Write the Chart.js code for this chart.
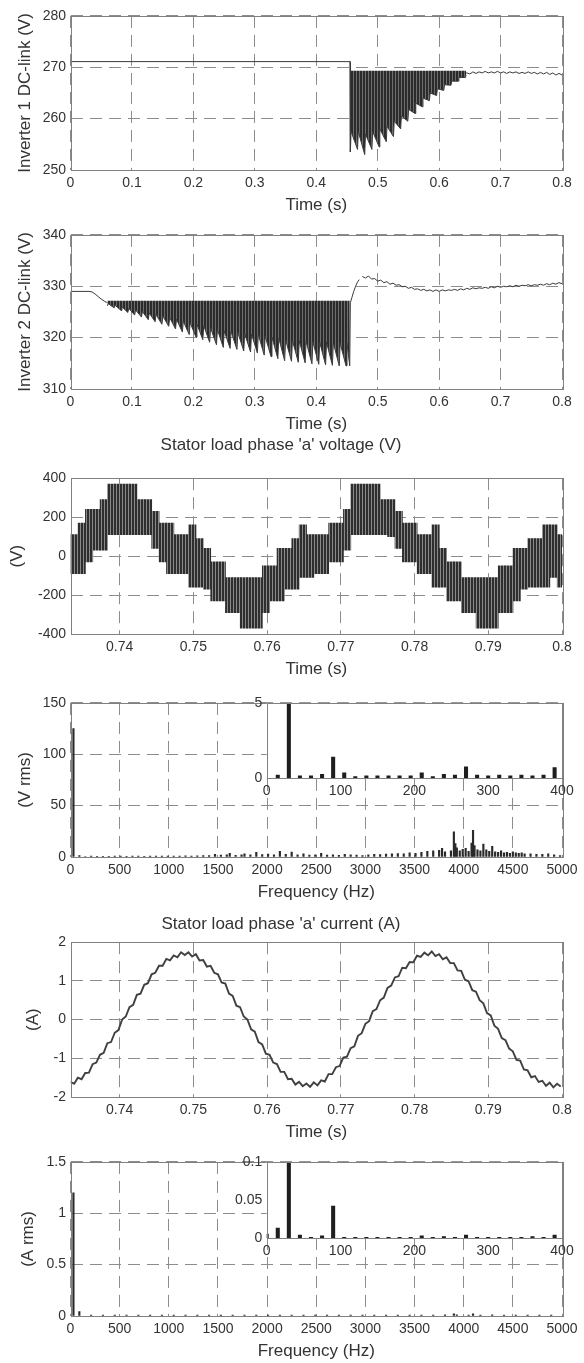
<!DOCTYPE html>
<html lang="en">
<head>
<meta charset="UTF-8">
<title>Two-inverter drive: DC-link and stator load waveforms</title>
<script src="https://cdn.jsdelivr.net/npm/chart.js"></script>
<style>
  body { margin: 0; background: #fff; }
  #wrap { position: relative; width: 584px; height: 1363px; }
  #wrap canvas { position: absolute; }
</style>
</head>
<body>
<div id="wrap">
  <canvas id="c1" width="584" height="213" style="left:0;top:3px"></canvas>
  <canvas id="c2" width="584" height="213" style="left:0;top:222px"></canvas>
  <canvas id="c3" width="584" height="248" style="left:0;top:432px"></canvas>
  <canvas id="c4" width="584" height="213" style="left:0;top:690px"></canvas>
  <canvas id="i4" width="384" height="110" style="left:200px;top:690px"></canvas>
  <canvas id="c5" width="584" height="232" style="left:0;top:911px"></canvas>
  <canvas id="c6" width="584" height="213" style="left:0;top:1149px"></canvas>
  <canvas id="i6" width="384" height="111" style="left:200px;top:1149px"></canvas>
</div>
<script>
// ---- panel 1: inverter 1 DC-link (V) ----
const p1XTicks = [0, 0.1, 0.2, 0.3, 0.4, 0.5, 0.6, 0.7, 0.8];
const p1YTicks = [250, 260, 270, 280];
const p1StepT = [0, 0.4550, 0.4555];
const p1StepV = [271.1, 271.1, 253.5];
const p1BandTop = 269.3;   // top of the ripple band
const p1BandT = [0.4555,0.4567,0.4672,0.4684,0.4789,0.4801,0.4906,0.4918,0.5023,0.5035,0.5140,0.5152,
  0.5257,0.5269,0.5374,0.5386,0.5491,0.5503,0.5608,0.5620,0.5725,0.5737,0.5842,0.5854,0.5959,0.5971,
  0.6076,0.6088,0.6193,0.6205,0.6310,0.6322,0.6427,0.6439];
const p1BandV = [253.5,257.5,254.0,257.5,253.0,257.0,254.0,257.5,254.5,258.0,255.5,258.5,
  256.5,259.5,258.0,260.5,259.5,261.8,261.0,263.0,262.3,264.0,263.5,265.0,264.5,265.8,
  265.5,266.6,266.5,267.3,267.3,268.0,268.0,268.5];
const p1SettleStart = 0.640, p1SettleStep = 0.005;
const p1SettleV = [268.6,268.9,268.7,269.1,268.8,269.1,268.9,269.2,268.9,269.1,268.9,269.2,268.9,269.1,
  268.8,269.1,268.9,269.1,268.8,269.0,268.8,269.1,268.8,269.0,268.7,269.0,268.7,269.0,268.6,268.9,
  268.5,268.8,268.5];

// ---- panel 2: inverter 2 DC-link (V) ----
const p2YTicks = [310, 320, 330, 340];
const p2StartT = [0, 0.030, 0.035, 0.040, 0.045, 0.050, 0.055, 0.060];
const p2StartV = [329.0, 329.0, 328.9, 328.5, 328.0, 327.5, 327.1, 326.8];
const p2BandTop = 327.2;
const p2TipT = [0.0600,0.0711,0.0822,0.0933,0.1044,0.1155,0.1266,0.1377,0.1488,0.1599,0.1710,0.1821,
  0.1932,0.2043,0.2154,0.2265,0.2376,0.2487,0.2598,0.2709,0.2820,0.2931,0.3042,0.3153,0.3264,0.3375,
  0.3486,0.3597,0.3708,0.3819,0.3930,0.4041,0.4152,0.4263,0.4374,0.4485,0.4545];
const p2TipV = [326.2,325.8,325.3,324.9,324.4,324.0,323.5,323.1,322.6,322.2,321.7,321.1,
  320.6,320.1,319.6,319.1,318.6,318.1,317.9,317.7,317.4,317.2,317.0,316.6,316.3,315.9,
  315.5,315.4,315.2,315.1,314.9,314.8,314.7,314.6,314.5,314.5,314.5];
const p2NotchT = [0.0615,0.0726,0.0837,0.0948,0.1059,0.1170,0.1281,0.1392,0.1503,0.1614,0.1725,0.1836,
  0.1947,0.2058,0.2169,0.2280,0.2391,0.2502,0.2613,0.2724,0.2835,0.2946,0.3057,0.3168,0.3279,0.3390,
  0.3501,0.3612,0.3723,0.3834,0.3945,0.4056,0.4167,0.4278,0.4389,0.4500];
const p2NotchV = [326.6,326.3,326.0,325.7,325.4,325.1,324.8,324.5,324.2,323.9,323.6,323.2,
  322.9,322.6,322.3,321.9,321.6,321.3,321.2,321.0,320.8,320.7,320.6,320.3,320.1,319.9,
  319.6,319.5,319.4,319.3,319.2,319.1,319.1,319.0,318.9,318.9];
const p2RiseT = [0.4545, 0.4555, 0.458, 0.461, 0.464, 0.467, 0.470];
const p2RiseV = [314.5, 326.8, 327.8, 329.0, 330.0, 330.8, 331.3];
const p2AfterStart = 0.475, p2AfterStep = 0.005;
const p2AfterV = [331.9,331.6,332.0,331.4,331.5,331.0,331.2,330.7,330.9,330.4,330.6,330.2,330.3,329.9,
  330.0,329.6,329.8,329.4,329.5,329.2,329.4,329.1,329.3,329.0,329.3,329.0,329.3,329.1,329.3,329.2,
  329.4,329.2,329.5,329.3,329.6,329.4,329.7,329.5,329.7,329.6,329.8,329.6,329.9,329.7,330.0,329.8,
  330.0,329.9,330.1,329.9,330.2,330.0,330.2,330.1,330.3,330.1,330.3,330.2,330.4,330.2,330.5,330.3,
  330.6,330.4,330.7,330.5];

// ---- panel 3: stator load phase 'a' voltage (V), switching band per 1 ms ----
const tWinTicks = [0.74, 0.75, 0.76, 0.77, 0.78, 0.79, 0.8];
const tWinMin = 0.73333, tWinMax = 0.8;
const p3YTicks = [-400, -200, 0, 200, 400];
const p3Start = 0.73385, p3Step = 0.001;
const p3High = [110,170,240,240,290,370,370,370,370,290,290,230,170,170,110,110,160,90,40,-30,
  -30,-110,-110,-110,-110,-110,-50,-50,40,40,90,160,110,110,110,170,170,240,370,370,
  370,370,290,290,230,170,170,110,110,160,40,-30,-30,-110,-110,-110,-110,-110,-50,-50,
  40,40,90,90,160,160,110];
const p3Low = [-90,-90,-30,30,30,110,110,110,110,110,110,40,-30,-90,-90,-90,-160,-160,-170,-230,
  -230,-290,-290,-370,-370,-370,-290,-230,-230,-170,-170,-110,-110,-90,-90,-30,-30,30,110,110,
  110,110,110,100,40,-30,-30,-90,-90,-160,-160,-230,-230,-290,-290,-370,-370,-370,-290,-290,
  -230,-170,-160,-160,-160,-110,-160];

// ---- panel 4: voltage spectrum (V rms) ----
const fTicks = [0, 500, 1000, 1500, 2000, 2500, 3000, 3500, 4000, 4500, 5000];
const p4YTicks = [0, 50, 100, 150];
const p4F = [30,90,150,210,270,330,390,450,510,570,630,690,750,810,870,930,990,1050,1110,1170,1230,1290,1350,1410,1470,
  1530,1590,1620,1680,1740,1770,1830,1890,1950,2010,2070,2130,2190,2250,2310,2370,2430,2490,2550,2610,2670,2730,
  2790,2850,2910,2970,3030,3090,3150,3210,3270,3330,3390,3450,3510,3570,3630,3690,3750,
  3780,3810,3870,3900,3915,3930,3960,3990,4020,4050,4080,4095,4110,4140,4170,4200,4230,4260,4290,4320,4350,
  4380,4410,4440,4470,4500,4530,4560,4590,4620,4680,4740,4800,4860,4920,4980];
const p4V = [125,1.4,0.5,0.8,0.7,0.6,0.7,0.8,0.9,0.7,0.8,0.9,0.7,0.8,1.0,0.8,0.9,1.0,0.9,1.1,1.0,1.2,1.3,1.5,2.5,
  1.8,2.0,3.5,1.6,2.2,3.0,2.0,4.5,2.4,2.8,2.0,5.5,2.5,4.8,2.0,3.0,1.8,2.2,3.5,1.8,2.0,1.6,
  2.5,2.2,1.8,1.5,2.0,2.5,2.4,2.8,3.0,3.4,3.0,4.0,3.5,4.5,5.5,6.0,6.5,
  8.5,5.0,6.0,24.5,13.0,9.0,6.0,7.5,8.5,5.5,13.5,26.0,11.0,7.0,6.0,12.5,7.0,5.5,10.5,5.0,4.5,
  6.0,4.0,4.5,3.5,5.0,4.0,3.5,4.0,3.0,3.0,2.5,2.5,3.0,2.0,1.5];
const insetFTicks = [0, 100, 200, 300, 400];
const i4YTicks = [0, 5];
const i4F = [15,30,45,60,75,90,105,120,135,150,165,180,195,210,225,240,255,270,285,300,315,330,345,360,375,390];
const i4V = [0.2,125,0.15,0.15,0.25,1.4,0.35,0.1,0.15,0.15,0.15,0.15,0.15,0.35,0.1,0.25,0.2,0.75,0.2,0.15,0.2,0.15,0.2,0.15,0.2,0.7];

// ---- panel 5: stator load phase 'a' current (A), 0.5 ms samples ----
const p5YTicks = [-2, -1, 0, 1, 2];
const p5Start = 0.73333, p5Step = 0.0005;
const p5V = [-1.61,-1.66,-1.50,-1.54,-1.38,-1.37,-1.15,-1.11,-0.91,-0.86,-0.61,-0.58,-0.34,-0.27,0.00,0.08,
  0.32,0.38,0.64,0.67,0.90,0.94,1.17,1.21,1.39,1.39,1.57,1.53,1.66,1.61,1.74,1.67,1.74,1.63,1.69,1.53,
  1.54,1.37,1.39,1.21,1.17,0.96,0.93,0.67,0.61,0.36,0.32,0.08,0.00,-0.25,-0.31,-0.58,-0.64,-0.88,-0.91,
  -1.11,-1.15,-1.35,-1.35,-1.54,-1.53,-1.68,-1.61,-1.72,-1.65,-1.74,-1.62,-1.70,-1.57,-1.60,-1.41,-1.41,
  -1.23,-1.20,-0.98,-0.96,-0.74,-0.69,-0.42,-0.35,-0.11,-0.04,0.22,0.27,0.50,0.57,0.82,0.88,1.09,1.12,
  1.34,1.33,1.49,1.48,1.65,1.62,1.73,1.66,1.76,1.64,1.69,1.56,1.61,1.46,1.46,1.27,1.26,1.03,0.99,0.76,
  0.72,0.50,0.42,0.17,0.11,-0.16,-0.24,-0.48,-0.53,-0.75,-0.82,-1.04,-1.06,-1.29,-1.31,-1.49,-1.46,
  -1.61,-1.58,-1.71,-1.63,-1.75,-1.66,-1.73];

// ---- panel 6: current spectrum (A rms) ----
const p6YTicks = [0, 0.5, 1, 1.5];
const p6F = [30,90,210,330,450,570,690,810,930,1050,1170,1290,1410,1530,1650,1770,1890,2010,2130,2250,2370,2490,
  2610,2730,2850,2970,3090,3210,3330,3450,3570,3690,3810,3900,3930,4050,4095,4170,4290,4410,4530,4650,4770,4890];
const p6V = [1.2,0.042,0.010,0.008,0.010,0.008,0.010,0.008,0.009,0.010,0.008,0.010,0.009,0.008,0.010,0.009,
  0.010,0.008,0.010,0.009,0.008,0.010,0.009,0.008,0.010,0.008,0.009,0.010,0.008,0.010,0.009,0.010,0.012,
  0.020,0.012,0.010,0.020,0.010,0.012,0.010,0.009,0.010,0.008,0.009];
const i6YTicks = [0, 0.05, 0.1];
const i6F = [0,15,30,45,60,75,90,105,120,135,150,165,180,195,210,225,240,255,270,285,300,315,330,345,360,375,390];
const i6V = [0.005,0.013,1.2,0.004,0.001,0.003,0.042,0.001,0.001,0.001,0.001,0.001,0.001,0.001,0.003,0.001,
  0.002,0.001,0.004,0.001,0.001,0.001,0.001,0.001,0.002,0.001,0.004];

// ---- styling ----
Chart.defaults.font.family = '"Liberation Sans", Arial, Helvetica, sans-serif';
Chart.defaults.color = '#333';
const INK = '#333', GRID = '#8c8c8c', FRAME = '#808080', DASH = [12, 7];
const fmt = v => String(+Number(v).toFixed(3));
const seq = (start, step, n) => Array.from({length: n}, (_, i) => +(start + i * step).toFixed(5));
const pts = (xs, ys) => xs.map((x, i) => ({x, y: ys[i]}));
const line = {borderColor: '#3a3a3a', borderWidth: 1, pointRadius: 0, fill: false, tension: 0};

// vertical hatch, to mimic the dense switching traces
function hatch(dark, light, dw, lw) {
  const c = document.createElement('canvas');
  c.width = dw + lw; c.height = 4;
  const g = c.getContext('2d');
  g.fillStyle = dark; g.fillRect(0, 0, dw, 4);
  g.fillStyle = light; g.fillRect(dw, 0, lw, 4);
  return g.createPattern(c, 'repeat');
}

const frame = {
  id: 'frame',
  beforeDatasetsDraw(chart, args, opts) {
    if (!opts.white) return;
    const a = chart.chartArea, ctx = chart.ctx;
    ctx.save(); ctx.fillStyle = '#fff';
    ctx.fillRect(a.left, a.top, a.right - a.left, a.bottom - a.top);
    ctx.restore();
  },
  afterDatasetsDraw(chart) {
    const a = chart.chartArea, ctx = chart.ctx;
    ctx.save(); ctx.strokeStyle = FRAME; ctx.lineWidth = 1;
    ctx.strokeRect(Math.round(a.left) + 0.5, Math.round(a.top) + 0.5,
      Math.round(a.right - a.left), Math.round(a.bottom - a.top));
    ctx.restore();
  }
};

function axis(min, max, ticks, o) {
  return {
    type: 'linear', min, max, offset: false,
    grid: {display: o.grid !== false, color: GRID, lineWidth: 1, drawTicks: false, offset: false},
    border: {display: false, dash: DASH},
    ticks: {padding: o.pad, font: {size: 14}, color: INK, callback: fmt, autoSkip: false, maxRotation: 0},
    title: {display: !!o.title, text: o.title, color: INK, font: {size: 17},
            padding: {top: o.titlePad || 0, bottom: 0}},
    afterBuildTicks: s => { s.ticks = ticks.map(v => ({value: v})); },
    afterFit: s => { if (o.w !== undefined) s.width = o.w; if (o.h !== undefined) s.height = o.h; }
  };
}

function panel(id, p) {
  new Chart(document.getElementById(id), {
    type: p.type || 'line',
    data: {datasets: p.datasets},
    options: {
      responsive: false, animation: false, events: [],
      layout: {padding: {left: 0, right: 22, top: p.title ? 0 : (p.top || 12), bottom: 0}},
      plugins: {
        legend: {display: false}, tooltip: {enabled: false},
        title: p.title ? {display: true, text: p.title, color: INK, font: {size: 17, weight: 'normal'},
                          padding: {top: 3, bottom: p.titleGap}} : {display: false},
        frame: {white: !!p.white}
      },
      scales: {
        x: axis(p.x[0], p.x[1], p.x[2], {pad: 5, h: p.xh || 46, title: p.xTitle, grid: p.grid}),
        y: axis(p.y[0], p.y[1], p.y[2], {pad: 4.5, w: p.yw || 70.5, title: p.yTitle, titlePad: p.yPad, grid: p.grid})
      }
    },
    plugins: [frame]
  });
}

const BAND = hatch('#2b2b2b', '#6e6e6e', 2, 1);
const PWM = hatch('#2e2e2e', '#8a8a8a', 2, 1);

panel('c1', {
  x: [0, 0.8, p1XTicks], y: [250, 280, p1YTicks], xTitle: 'Time (s)',
  yTitle: 'Inverter 1 DC-link (V)', yPad: 14.8,
  datasets: [
    {...line, data: pts(p1StepT, p1StepV)},
    {...line, data: pts(p1BandT, p1BandV), fill: {value: p1BandTop}, backgroundColor: BAND},
    {...line, data: pts(seq(p1SettleStart, p1SettleStep, p1SettleV.length), p1SettleV)}
  ]
});

const p2Band = [];
p2TipT.forEach((t, i) => {
  p2Band.push({x: t, y: p2TipV[i]});
  if (i < p2NotchT.length) p2Band.push({x: p2NotchT[i], y: p2NotchV[i]});
});
panel('c2', {
  x: [0, 0.8, p1XTicks], y: [310, 340, p2YTicks], xTitle: 'Time (s)',
  yTitle: 'Inverter 2 DC-link (V)', yPad: 14.8,
  datasets: [
    {...line, data: pts(p2StartT, p2StartV)},
    {...line, data: p2Band, fill: {value: p2BandTop}, backgroundColor: BAND},
    {...line, data: pts(p2RiseT, p2RiseV)},
    {...line, data: pts(seq(p2AfterStart, p2AfterStep, p2AfterV.length), p2AfterV)}
  ]
});

const p3T = seq(p3Start, p3Step, p3High.length);
panel('c3', {
  type: 'bar', title: "Stator load phase 'a' voltage (V)", titleGap: 22.8,
  x: [tWinMin, tWinMax, tWinTicks], y: [-400, 400, p3YTicks], xTitle: 'Time (s)',
  yTitle: '(V)', yPad: 6.8,
  datasets: [{data: p3T.map((t, i) => ({x: t, y: [p3Low[i], p3High[i]]})),
              backgroundColor: PWM, barThickness: 7.4, borderWidth: 0}]
});

panel('c4', {
  type: 'bar', x: [0, 5000, fTicks], y: [0, 150, p4YTicks], xTitle: 'Frequency (Hz)',
  yTitle: '(V rms)', yPad: 14.8,
  datasets: [{data: pts(p4F, p4V), backgroundColor: '#2a2a2a', barThickness: 1.5, borderWidth: 0}]
});
panel('i4', {
  type: 'bar', white: true, grid: false, x: [0, 400, insetFTicks], y: [0, 5, i4YTicks],
  xh: 22, yw: 66.7,
  datasets: [{data: pts(i4F, i4V), backgroundColor: '#1e1e1e', barThickness: 3.4, borderWidth: 0}]
});

panel('c5', {
  title: "Stator load phase 'a' current (A)", titleGap: 7.8,
  x: [tWinMin, tWinMax, tWinTicks], y: [-2, 2, p5YTicks], xTitle: 'Time (s)',
  yTitle: '(A)', yPad: 22.8,
  datasets: [{...line, borderColor: '#404040', borderWidth: 1.9, data: pts(seq(p5Start, p5Step, p5V.length), p5V)}]
});

panel('c6', {
  type: 'bar', x: [0, 5000, fTicks], y: [0, 1.5, p6YTicks], xTitle: 'Frequency (Hz)',
  yTitle: '(A rms)', yPad: 17.8,
  datasets: [{data: pts(p6F, p6V), backgroundColor: '#2a2a2a', barThickness: 1.5, borderWidth: 0}]
});
panel('i6', {
  type: 'bar', white: true, grid: false, x: [0, 400, insetFTicks], y: [0, 0.1, i6YTicks],
  xh: 22, yw: 66.7,
  datasets: [{data: pts(i6F, i6V), backgroundColor: '#1e1e1e', barThickness: 3.4, borderWidth: 0}]
});
</script>
</body>
</html>
